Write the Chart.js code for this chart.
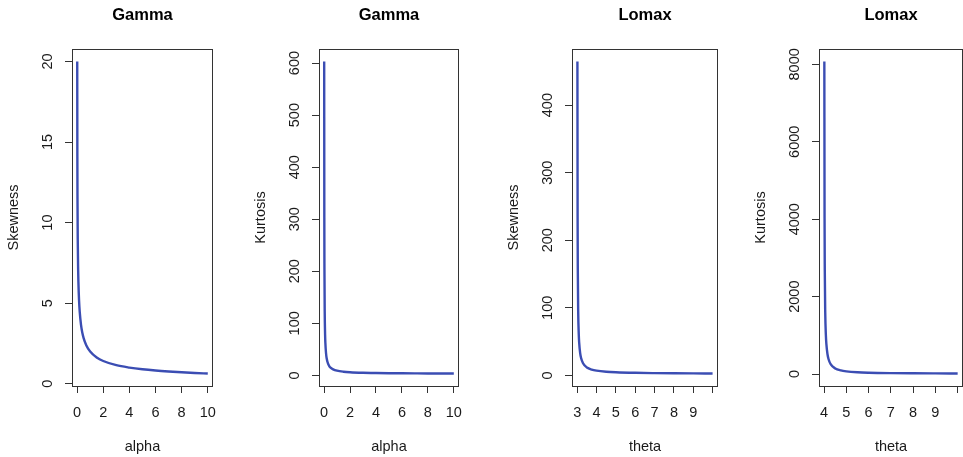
<!DOCTYPE html>
<html lang="en">
<head>
    <meta charset="UTF-8">
    <title>Gamma and Lomax skewness / kurtosis</title>
    <style>
        html, body {
            margin: 0;
            padding: 0;
            background: #ffffff;
            overflow: hidden;
        }

        #figure {
            position: relative;
            width: 963px;
            height: 457px;
            overflow: hidden;
            background: #ffffff;
        }

        #figure canvas {
            position: absolute;
            top: 0;
        }
    </style>
</head>
<body>
    <div id="figure">
        <canvas id="gammaSkewCanvas"></canvas>
        <canvas id="gammaKurtCanvas"></canvas>
        <canvas id="lomaxSkewCanvas"></canvas>
        <canvas id="lomaxKurtCanvas"></canvas>
    </div>
    <script src="https://cdn.jsdelivr.net/npm/chart.js"></script>
    <script>
        // values
        const gammaAlpha = [0.01, 0.02, 0.03, 0.05, 0.08, 0.1, 0.15, 0.2, 0.3, 0.4, 0.5, 0.7, 1, 1.5, 2, 3, 4, 5, 6, 7, 8, 9, 10];
        const gammaSkew = [20, 14.1, 11.5, 8.94, 7.07, 6.32, 5.16, 4.47, 3.65, 3.16, 2.83, 2.39, 2, 1.63, 1.41, 1.15, 1, 0.894, 0.816, 0.756, 0.707, 0.667, 0.632];
        const gammaKurt = [603, 303, 203, 123, 78, 63, 43, 33, 23, 18, 15, 11.6, 9, 7, 6, 5, 4.5, 4.2, 4, 3.86, 3.75, 3.67, 3.6];

        const lomaxSkewTheta = [3.01, 3.02, 3.03, 3.05, 3.08, 3.1, 3.15, 3.2, 3.3, 3.5, 3.75, 4, 4.5, 5, 6, 7, 8, 9, 10];
        const lomaxSkew = [464.6, 233.6, 156.6, 95.0, 60.4, 48.8, 33.4, 25.7, 18.0, 11.8, 8.65, 7.07, 5.47, 4.65, 3.81, 3.38, 3.12, 2.94, 2.81];

        const lomaxKurtTheta = [4.01, 4.02, 4.03, 4.05, 4.08, 4.1, 4.15, 4.2, 4.3, 4.5, 4.75, 5, 5.5, 6, 7, 8, 9, 10];
        const lomaxKurt = [8074, 4024, 2675, 1595, 989, 787, 518, 384, 251, 146, 95.5, 70.8, 47, 35.7, 24.9, 19.7, 16.8, 14.8];

        // tick values and labels
        const alphaTicks = [0, 2, 4, 6, 8, 10];
        const alphaLabels = ["0", "2", "4", "6", "8", "10"];
        const lomaxSkewXTicks = [3, 4, 5, 6, 7, 8, 9, 10];
        const lomaxSkewXLabels = ["3", "4", "5", "6", "7", "8", "9", ""];
        const lomaxKurtXTicks = [4, 5, 6, 7, 8, 9, 10];
        const lomaxKurtXLabels = ["4", "5", "6", "7", "8", "9", ""];

        const gammaSkewYTicks = [0, 5, 10, 15, 20];
        const gammaKurtYTicks = [0, 100, 200, 300, 400, 500, 600];
        const lomaxSkewYTicks = [0, 100, 200, 300, 400];
        const lomaxKurtYTicks = [0, 2000, 4000, 6000, 8000];

        const titles = ["Gamma", "Gamma", "Lomax", "Lomax"];
        const xTitles = ["alpha", "alpha", "theta", "theta"];
        const yTitles = ["Skewness", "Kurtosis", "Skewness", "Kurtosis"];

        const FONT = "'Liberation Sans', Arial, Helvetica, sans-serif";
        const LINE_COLOR = "#3b4db3";
        const AXIS_COLOR = "#333333";
        const TEXT_COLOR = "#1a1a1a";
        const TEXT_SIZE = 14.5;

        const Y_AXIS_W = 72;
        const X_AXIS_H = 71;
        const TOP_H = 49;
        const RIGHT_PAD = 8;

        Chart.defaults.font.family = FONT;
        Chart.defaults.color = TEXT_COLOR;

        // box round the plot, rotated y tick labels, title over the plot region
        const rFrame = {
            id: "rFrame",
            afterDraw(chart, args, opts) {
                const ctx = chart.ctx;
                const area = chart.chartArea;
                ctx.save();
                ctx.strokeStyle = AXIS_COLOR;
                ctx.lineWidth = 1;
                ctx.strokeRect(area.left + 0.5, area.top + 0.5, area.right - area.left - 1, area.bottom - area.top);

                const yScale = chart.scales.y;
                ctx.fillStyle = TEXT_COLOR;
                ctx.font = TEXT_SIZE + "px " + FONT;
                ctx.textAlign = "center";
                ctx.textBaseline = "middle";
                yScale.ticks.forEach(t => {
                    const py = yScale.getPixelForValue(t.value);
                    ctx.save();
                    ctx.translate(area.left - 24, py);
                    ctx.rotate(-Math.PI / 2);
                    ctx.fillText(String(t.value), 0, 0);
                    ctx.restore();
                });

                ctx.font = "bold 16.5px " + FONT;
                ctx.fillStyle = "#000000";
                ctx.fillText(opts.text, (area.left + area.right) / 2, 15);
                ctx.restore();
            }
        };

        function makePanel(canvasId, plotLeft, plotRight, idx, xs, ys, xRange, yRange, xTicks, xLabels, yTicks) {
            const canvas = document.getElementById(canvasId);
            const w = Y_AXIS_W + (plotRight - plotLeft) + RIGHT_PAD;
            canvas.width = w;
            canvas.height = 457;
            canvas.style.left = (plotLeft - Y_AXIS_W) + "px";
            canvas.style.width = w + "px";
            canvas.style.height = "457px";

            const points = xs.map((x, i) => ({ x: x, y: ys[i] }));

            return new Chart(canvas.getContext("2d"), {
                type: "line",
                data: {
                    datasets: [{
                        data: points,
                        borderColor: LINE_COLOR,
                        borderWidth: 2.4,
                        pointRadius: 0,
                        fill: false,
                        cubicInterpolationMode: "monotone"
                    }]
                },
                options: {
                    responsive: false,
                    animation: false,
                    devicePixelRatio: 1,
                    layout: { padding: { top: TOP_H, right: RIGHT_PAD, left: 0, bottom: 0 } },
                    plugins: {
                        legend: { display: false },
                        tooltip: { enabled: false },
                        rFrame: { text: titles[idx] }
                    },
                    scales: {
                        x: {
                            type: "linear",
                            min: xRange[0],
                            max: xRange[1],
                            afterBuildTicks: s => { s.ticks = xTicks.map(v => ({ value: v })); },
                            afterFit: s => {
                                s.height = X_AXIS_H;
                                s.paddingLeft = 0;
                                s.paddingRight = 0;
                            },
                            border: { display: false },
                            grid: {
                                drawOnChartArea: false,
                                drawTicks: true,
                                tickLength: 7,
                                color: AXIS_COLOR
                            },
                            ticks: {
                                autoSkip: false,
                                maxRotation: 0,
                                padding: 11,
                                font: { size: TEXT_SIZE },
                                color: TEXT_COLOR,
                                callback: (v, i) => xLabels[i]
                            },
                            title: {
                                display: true,
                                text: xTitles[idx],
                                font: { size: TEXT_SIZE },
                                color: TEXT_COLOR,
                                padding: { top: 0, bottom: 1 }
                            }
                        },
                        y: {
                            type: "linear",
                            min: yRange[0],
                            max: yRange[1],
                            afterBuildTicks: s => { s.ticks = yTicks.map(v => ({ value: v })); },
                            afterFit: s => {
                                s.width = Y_AXIS_W;
                                s.paddingTop = 0;
                                s.paddingBottom = 0;
                            },
                            border: { display: false },
                            grid: {
                                drawOnChartArea: false,
                                drawTicks: true,
                                tickLength: 7,
                                color: AXIS_COLOR
                            },
                            ticks: { display: false },
                            title: {
                                display: true,
                                text: yTitles[idx],
                                font: { size: TEXT_SIZE },
                                color: TEXT_COLOR,
                                padding: { top: 5, bottom: 0 }
                            }
                        }
                    }
                },
                plugins: [rFrame]
            });
        }

        makePanel("gammaSkewCanvas", 72, 213, 0, gammaAlpha, gammaSkew,
            [-0.39, 10.4], [-0.143, 20.775], alphaTicks, alphaLabels, gammaSkewYTicks);
        makePanel("gammaKurtCanvas", 319, 459, 1, gammaAlpha, gammaKurt,
            [-0.39, 10.4], [-20.4, 627], alphaTicks, alphaLabels, gammaKurtYTicks);
        makePanel("lomaxSkewCanvas", 572, 718, 2, lomaxSkewTheta, lomaxSkew,
            [2.73, 10.28], [-15.7, 483.1], lomaxSkewXTicks, lomaxSkewXLabels, lomaxSkewYTicks);
        makePanel("lomaxKurtCanvas", 819, 963, 3, lomaxKurtTheta, lomaxKurt,
            [3.77, 10.24], [-308, 8396], lomaxKurtXTicks, lomaxKurtXLabels, lomaxKurtYTicks);
    </script>
</body>
</html>
